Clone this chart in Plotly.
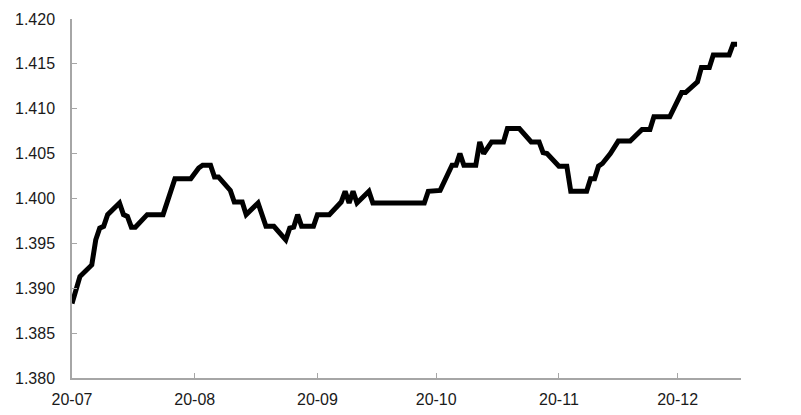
import plotly.graph_objects as go

# values (vertices of the line)
dates = ['2020-07-01', '2020-07-03', '2020-07-06', '2020-07-07', '2020-07-08',
         '2020-07-09', '2020-07-10', '2020-07-13', '2020-07-14', '2020-07-15',
         '2020-07-16', '2020-07-17', '2020-07-20', '2020-07-24', '2020-07-27',
         '2020-07-31', '2020-08-02', '2020-08-03', '2020-08-05', '2020-08-06',
         '2020-08-07', '2020-08-10', '2020-08-11', '2020-08-13', '2020-08-14',
         '2020-08-17', '2020-08-19', '2020-08-21', '2020-08-24', '2020-08-25',
         '2020-08-26', '2020-08-27', '2020-08-28', '2020-08-31', '2020-09-01',
         '2020-09-04', '2020-09-07', '2020-09-08', '2020-09-09', '2020-09-10',
         '2020-09-11', '2020-09-14', '2020-09-15', '2020-09-28', '2020-09-29',
         '2020-10-02', '2020-10-05', '2020-10-06', '2020-10-07', '2020-10-08',
         '2020-10-11', '2020-10-12', '2020-10-13', '2020-10-15', '2020-10-18',
         '2020-10-19', '2020-10-22', '2020-10-25', '2020-10-27', '2020-10-28',
         '2020-10-29', '2020-11-01', '2020-11-03', '2020-11-04', '2020-11-08',
         '2020-11-09', '2020-11-10', '2020-11-11', '2020-11-12', '2020-11-14',
         '2020-11-16', '2020-11-19', '2020-11-22', '2020-11-24', '2020-11-25',
         '2020-11-29', '2020-12-02', '2020-12-03', '2020-12-06', '2020-12-07',
         '2020-12-09', '2020-12-10', '2020-12-14', '2020-12-15', '2020-12-16']

rates = [1.3883, 1.3913, 1.3926, 1.3954, 1.3967,
         1.3969, 1.3982, 1.3995, 1.3982, 1.3980,
         1.3968, 1.3968, 1.3982, 1.3982, 1.4022,
         1.4022, 1.4034, 1.4037, 1.4037, 1.4024,
         1.4024, 1.4009, 1.3996, 1.3996, 1.3982,
         1.3995, 1.3969, 1.3969, 1.3954, 1.3967,
         1.3968, 1.3982, 1.3969, 1.3969, 1.3982,
         1.3982, 1.3996, 1.4008, 1.3995, 1.4008,
         1.3995, 1.4008, 1.3995, 1.3995, 1.4008,
         1.4009, 1.4037, 1.4037, 1.4050, 1.4037,
         1.4037, 1.4063, 1.4050, 1.4063, 1.4063,
         1.4078, 1.4078, 1.4063, 1.4063, 1.4051,
         1.4050, 1.4036, 1.4036, 1.4008, 1.4008,
         1.4022, 1.4022, 1.4036, 1.4039, 1.4050,
         1.4064, 1.4064, 1.4077, 1.4077, 1.4091,
         1.4091, 1.4118, 1.4118, 1.4130, 1.4146,
         1.4146, 1.4160, 1.4160, 1.4172, 1.4172]

fig = go.Figure()

fig.add_trace(go.Scatter(x=dates, y=rates,
                         mode='lines',
                         line=dict(color='black', width=5),
                         showlegend=False))

axis_grey = '#a6a6a6'

# page body adds 8px around the figure, so the figure is 16px smaller
fig.update_layout(
    autosize=False,
    width=785,
    height=399,
    margin=dict(l=64, r=52, t=11, b=29),
    plot_bgcolor='white',
    paper_bgcolor='white',
    font=dict(family='Liberation Sans, Arial', size=16, color='#1a1a1a'),

    xaxis=dict(
        type='date',
        range=['2020-07-01', '2020-12-17'],
        tick0='2020-07-01',
        dtick='M1',
        tickformat='%y-%m',
        ticks='inside',
        ticklen=5,
        tickwidth=1,
        tickcolor=axis_grey,
        showline=True,
        linewidth=1.5,
        linecolor=axis_grey,
        showgrid=False,
        zeroline=False,
        automargin=False,
        ticklabelstandoff=6
    ),

    yaxis=dict(
        range=[1.380, 1.420],
        tick0=1.380,
        dtick=0.005,
        tickformat='.3f',
        ticks='inside',
        ticklen=5,
        tickwidth=1,
        tickcolor=axis_grey,
        showline=True,
        linewidth=1.5,
        linecolor=axis_grey,
        showgrid=False,
        zeroline=False,
        automargin=False,
        ticklabelstandoff=12
    )
)

fig.write_html("out.html")
